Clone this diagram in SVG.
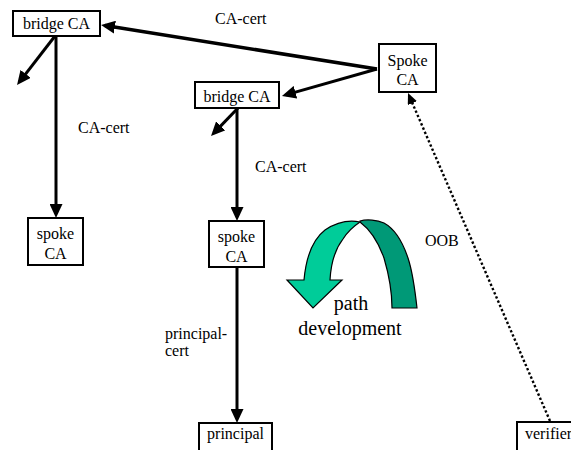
<svg xmlns="http://www.w3.org/2000/svg" width="571" height="450" viewBox="0 0 571 450">
  <style>
    .box { fill: #fff; stroke: #000; stroke-width: 2; }
    .lbl { font-family: 'Liberation Serif', 'DejaVu Serif', serif; font-size: 16px; fill: #000; }
    .mid { text-anchor: middle; }
    .edge { fill: none; stroke: #000; stroke-width: 3; }
    .dots { fill: none; stroke: #000; stroke-width: 2.4; stroke-dasharray: 2.4 2.2; }
  </style>
  <defs>
    <marker id="head" markerUnits="userSpaceOnUse" markerWidth="14" markerHeight="13" viewBox="0 0 14 13" refX="10" refY="6.5" orient="auto">
      <path d="M0,0 L14,6.5 L0,13 z" fill="#000"/>
    </marker>
    <marker id="headSmall" markerUnits="userSpaceOnUse" markerWidth="11" markerHeight="10" viewBox="0 0 11 10" refX="8" refY="5" orient="auto">
      <path d="M0,0 L11,5 L0,10 z" fill="#000"/>
    </marker>
  </defs>

  <!-- connectors -->
  <g id="connectors">
    <line class="edge" x1="377" y1="69" x2="105" y2="25.6" marker-end="url(#head)" style="stroke-width:3.5"/>
    <line class="edge" x1="377" y1="69" x2="285.8" y2="94.9" marker-end="url(#head)"/>
    <line class="edge" x1="55" y1="36" x2="19.5" y2="81.8" marker-end="url(#head)"/>
    <line class="edge" x1="56" y1="36" x2="56" y2="214" marker-end="url(#head)"/>
    <line class="edge" x1="238" y1="108" x2="213.8" y2="133.1" marker-end="url(#head)"/>
    <line class="edge" x1="237" y1="108" x2="237" y2="217" marker-end="url(#head)"/>
    <line class="edge" x1="237" y1="267" x2="237" y2="419" marker-end="url(#head)"/>
    <line class="dots" x1="550" y1="421" x2="409.2" y2="95.8" marker-end="url(#headSmall)"/>
    <text class="lbl" font-family="Liberation Serif, serif" x="215" y="24">CA-cert</text>
    <text class="lbl" font-family="Liberation Serif, serif" x="78" y="133">CA-cert</text>
    <text class="lbl" font-family="Liberation Serif, serif" x="255" y="172">CA-cert</text>
    <text class="lbl" font-family="Liberation Serif, serif" x="165" y="339">principal-</text>
    <text class="lbl" font-family="Liberation Serif, serif" x="165" y="356">cert</text>
    <text class="lbl" font-family="Liberation Serif, serif" x="425" y="246">OOB</text>
  </g>

  <!-- nodes -->
  <g id="bridge-ca-1">
    <rect class="box" x="13" y="11" width="87" height="25"/>
    <text class="lbl mid" x="56.5" y="29">bridge CA</text>
  </g>
  <g id="spoke-ca-top">
    <rect class="box" x="379" y="44" width="57" height="48"/>
    <text class="lbl mid" x="407.5" y="66">Spoke</text>
    <text class="lbl mid" x="407.5" y="85">CA</text>
  </g>
  <g id="bridge-ca-2">
    <rect class="box" x="195" y="82" width="84" height="26"/>
    <text class="lbl mid" x="237" y="102">bridge CA</text>
  </g>
  <g id="spoke-ca-1">
    <rect class="box" x="28" y="218" width="55" height="47"/>
    <text class="lbl mid" x="55.5" y="239">spoke</text>
    <text class="lbl mid" x="55.5" y="259">CA</text>
  </g>
  <g id="spoke-ca-2">
    <rect class="box" x="209" y="221" width="55" height="46"/>
    <text class="lbl mid" x="236.5" y="242">spoke</text>
    <text class="lbl mid" x="236.5" y="262">CA</text>
  </g>
  <g id="principal">
    <rect class="box" x="199" y="423" width="73" height="32"/>
    <text class="lbl mid" x="235.5" y="439">principal</text>
  </g>
  <g id="verifier">
    <rect class="box" x="517" y="422" width="70" height="33"/>
    <text class="lbl" x="525" y="439">verifier</text>
  </g>

  <!-- path development arc -->
  <g id="path-development">
    <path d="M360,221 C367,219 377,220 384,223 C395,229 403,243 408,258 C413,273 415,290 417,308 L392,308 C392,293 389,275 384,258 C379,244 372,231 360,222 Z" fill="#009977" stroke="#000" stroke-width="1.2"/>
    <path d="M360,222 C350,220 337,222 325,230 C312,240 306,258 304,280 L287,280 L313,308 L342,280 L330,280 C331,262 336,248 343,239 C348,231 354,226 360,222 Z" fill="#00CC99" stroke="#000" stroke-width="1.2"/>
    <text class="lbl mid" x="351" y="310" style="font-size:20px">path</text>
    <text class="lbl mid" x="350" y="335" style="font-size:20px">development</text>
  </g>
</svg>
